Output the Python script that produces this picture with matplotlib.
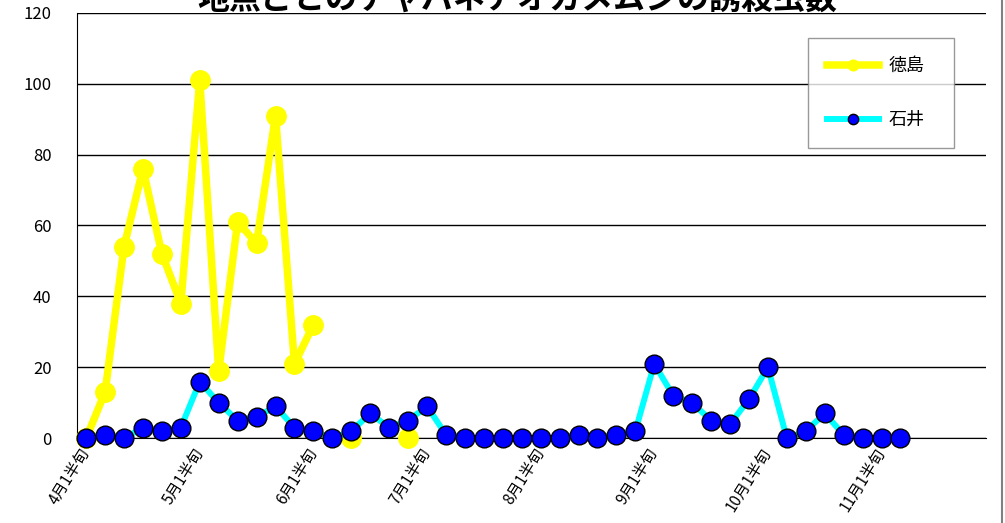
import numpy as np
import matplotlib.pyplot as plt
from matplotlib.lines import Line2D

plt.rcParams['font.family'] = ['Noto Sans CJK JP', 'DejaVu Sans']

# 半旬 (5-day periods), April to November
months = [4, 5, 6, 7, 8, 9, 10, 11]
categories = [f'{m}月{k}半旬' for m in months for k in range(1, 7)]

nan = np.nan
tokushima = [0, 13, 54, 76, 52, 38, 101, 19, 61, 55, 91, 21, 32, nan, 0, nan, nan, 0]
ishii = [0, 1, 0, 3, 2, 3, 16, 10, 5, 6, 9, 3, 2, 0, 2, 7, 3, 5, 9, 1,
         0, 0, 0, 0, 0, 0, 1, 0, 1, 2, 21, 12, 10, 5, 4, 11, 20, 0, 2, 7,
         1, 0, 0, 0]

title = '地点ごとのチャバネアオカメムシの誘殺虫数'

fig = plt.figure(figsize=(10.05, 5.23), dpi=100)
ax = fig.add_axes([0.0763, 0.162, 0.9045, 0.8137])

x_t = np.arange(len(tokushima))
x_i = np.arange(len(ishii))
ax.plot(x_t, tokushima, color='#ffff00', lw=5.4, marker='o', ms=14,
        mfc='#ffff00', mec='#ffff00', label='徳島', clip_on=False, zorder=3)
ax.plot(x_i, ishii, color='#00ffff', lw=4.3, marker='o', ms=13.5,
        mfc='#0000ff', mec='black', mew=1.0, label='石井', clip_on=False, zorder=4)

ax.set_xlim(-0.5, len(categories) - 0.5)
ax.set_ylim(0, 120)
ax.set_yticks(range(0, 121, 20))
ax.yaxis.grid(True, color='black', lw=1.0)
ax.set_axisbelow(True)
for s in ['top', 'right']:
    ax.spines[s].set_visible(False)
ax.spines['left'].set_color('black')
ax.spines['bottom'].set_color('black')
ax.tick_params(axis='y', length=0, pad=18, labelsize=12)
ax.tick_params(axis='x', length=0, pad=8, labelsize=11)

ticks = list(range(0, len(categories), 6))
ax.set_xticks(ticks)
ax.set_xticklabels([categories[i] for i in ticks], rotation=58,
                   ha='right', va='center', rotation_mode='anchor')

leg = ax.legend(loc='upper left', bbox_to_anchor=(0.8045, 0.9406, 0.1605, 0.0),
                mode='expand', borderaxespad=0, fontsize=13, frameon=True,
                fancybox=False, edgecolor='#808080', labelspacing=2.0,
                handlelength=2.9, handletextpad=0.5, borderpad=1.05,
                markerscale=0.55)
leg.get_frame().set_linewidth(1.0)

fig.text(0.515, 1 - 9 / 523, title, ha='center', va='baseline',
         fontsize=23, fontweight='bold')

# outer chart border on the right
fig.add_artist(Line2D([1002 / 1005, 1002 / 1005], [0, 1], color='#808080',
                      lw=1.5, transform=fig.transFigure))

fig.savefig('out.png', dpi=100)
